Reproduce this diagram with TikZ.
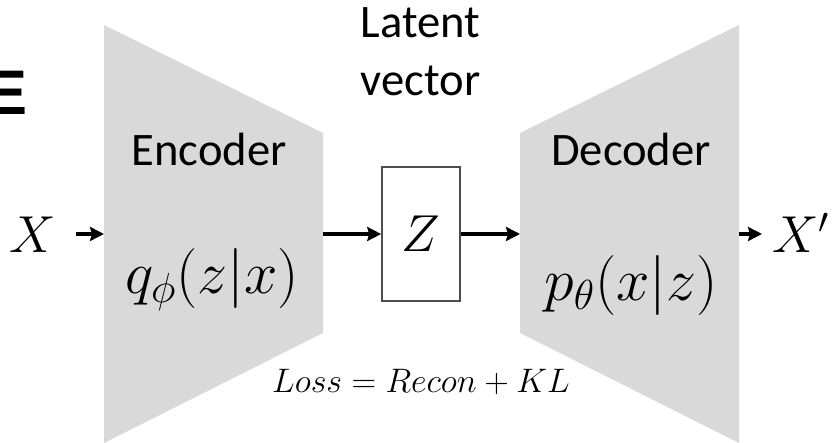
\RequirePackage{fix-cm}
\documentclass[tikz,border=0pt]{standalone}
\usepackage[no-math]{fontspec}
\newfontfamily\labelfont{Carlito}
\newfontfamily\headfont{Liberation Sans}
\usetikzlibrary{arrows.meta}
\definecolor{stagegray}{HTML}{D9D9D9}
\definecolor{boxline}{HTML}{4D4D4D}
\tikzset{
  stage/.style={fill=stagegray, draw=none},
  flow/.style={-{Stealth[length=7pt,width=7pt,inset=1pt]}, line width=1.6pt},
  caption/.style={font=\labelfont\fontsize{23.3}{28}\selectfont, inner sep=0pt, anchor=base},
  headfrag/.style={font=\headfont\bfseries\fontsize{31.5}{36}\selectfont, inner sep=0pt, anchor=base west},
  formula/.style={font=\fontsize{30}{36}\selectfont, inner sep=0pt, anchor=base},
  var/.style={font=\fontsize{26}{30}\selectfont, inner sep=0pt, anchor=base},
  loss/.style={font=\fontsize{17}{20}\selectfont, inner sep=0pt, anchor=base},
  latentbox/.style={draw=boxline, line width=0.8pt, fill=white, minimum width=39pt,
    minimum height=67pt, inner sep=0pt, font=\fontsize{26}{30}\selectfont},
}
\begin{document}
\begin{tikzpicture}[x=0.5pt,y=-0.5pt]
  \useasboundingbox (0,0) rectangle (833,443);
  \clip (0,0) rectangle (833,443);

  % fragment of a heading cut by the left edge
  \node[headfrag] (head) at (-15,115) {E};

  % encoder and decoder funnels
  \fill[stage] (104,25) -- (323,133) -- (323,333) -- (104,443) -- cycle;
  \fill[stage] (520,133) -- (739,25) -- (739,443) -- (520,333) -- cycle;

  \coordinate (encW) at (104,234);
  \coordinate (encE) at (323,234);
  \coordinate (decW) at (520,234);
  \coordinate (decE) at (739,234);
  \coordinate (xsrc) at (76,234);
  \coordinate (xdst) at (762,234);

  % labels
  \node[caption] (latent) at (420.5,38) {Latent};
  \node[caption] (vector) at (420.5,96) {vector};
  \node[caption] (enctitle) at (209,166) {Encoder};
  \node[caption] (dectitle) at (631,166) {Decoder};
  \node[formula] (qenc) at (212,293) {$q_\phi(z|x)$};
  \node[formula] (pdec) at (631,300) {$p_\theta(x|z)$};
  \node[var] (xin) at (33,252) {$X$};
  \node[var] (xout) at (801,252) {$X'$};
  \node[loss] (loss) at (421,392) {$Loss = Recon + KL$};

  % latent vector box
  \node[latentbox] (z) at (421,234) {$Z$};

  % data flow
  \draw[flow] (xsrc) -- (encW);
  \draw[flow] (encE) -- (z.west);
  \draw[flow] (z.east) -- (decW);
  \draw[flow] (decE) -- (xdst);
\end{tikzpicture}
\end{document}
